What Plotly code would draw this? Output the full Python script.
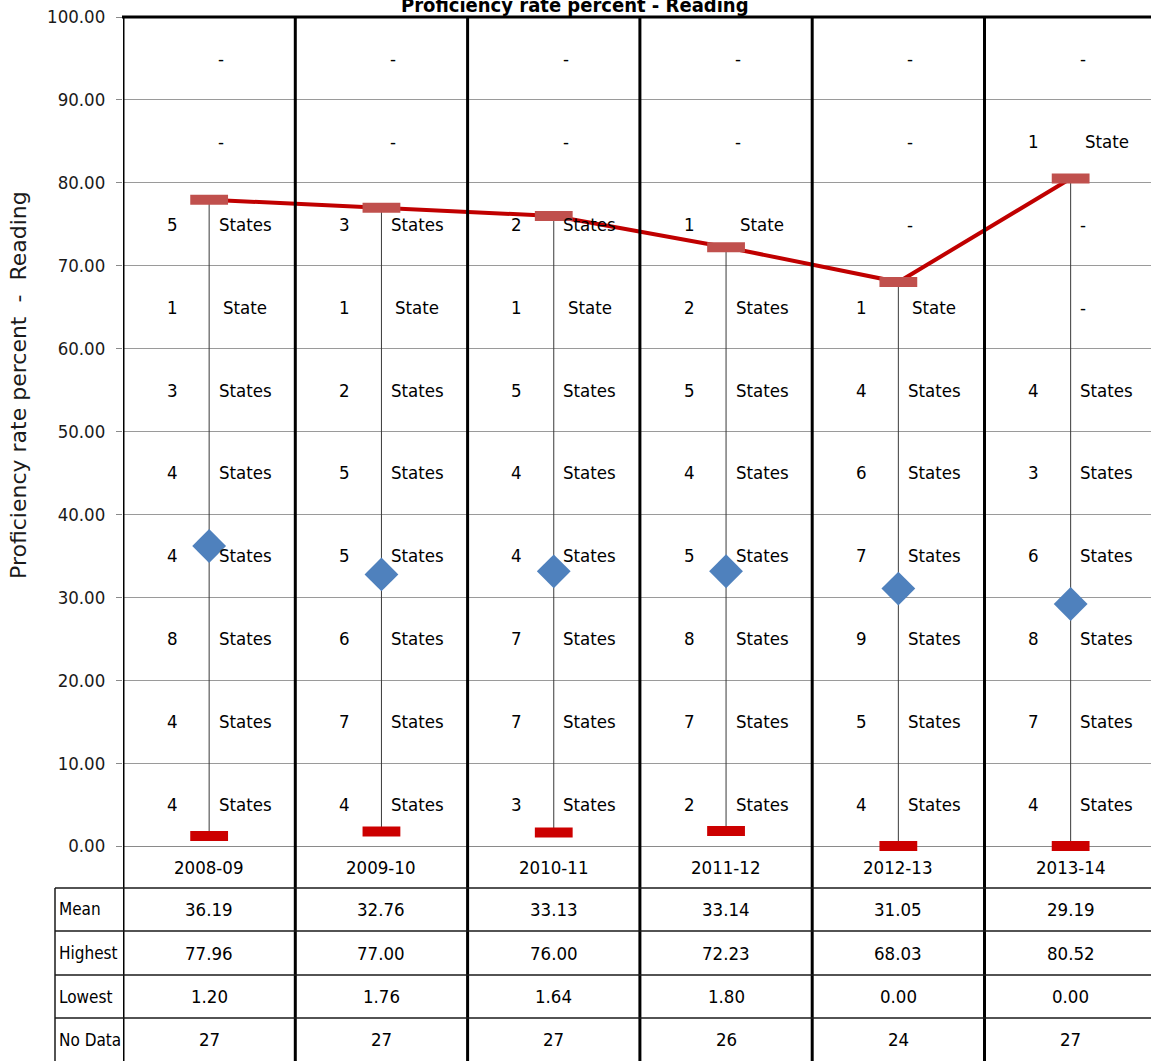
import plotly.graph_objects as go

# ---- data -------------------------------------------------------------
years = ["2008-09", "2009-10", "2010-11", "2011-12", "2012-13", "2013-14"]
mean_rate = [36.19, 32.76, 33.13, 33.14, 31.05, 29.19]
highest = [77.96, 77.00, 76.00, 72.23, 68.03, 80.52]
lowest = [1.20, 1.76, 1.64, 1.80, 0.00, 0.00]
no_data = [27, 27, 27, 26, 24, 27]

# number of states per 10-point band, top band (90-100) first; None = "-"
band_mid = [95, 85, 75, 65, 55, 45, 35, 25, 15, 5]
states_2008_09 = [None, None, 5, 1, 3, 4, 4, 8, 4, 4]
states_2009_10 = [None, None, 3, 1, 2, 5, 5, 6, 7, 4]
states_2010_11 = [None, None, 2, 1, 5, 4, 4, 7, 7, 3]
states_2011_12 = [None, None, 1, 2, 5, 4, 5, 8, 7, 2]
states_2012_13 = [None, None, None, 1, 4, 6, 7, 9, 5, 4]
states_2013_14 = [None, 1, None, None, 4, 3, 6, 8, 7, 4]
band_counts = [states_2008_09, states_2009_10, states_2010_11,
               states_2011_12, states_2012_13, states_2013_14]

y_ticks = [0, 10, 20, 30, 40, 50, 60, 70, 80, 90, 100]
table_rows = ["Mean", "Highest", "Lowest", "No Data"]

# ---- layout geometry (pixels) -----------------------------------------
W, H = 1151, 1061
L, T, B = 123, 17, 215
PW, PH = W - L, H - T - B
COL_W = 172.3
FONT = "DejaVu Sans Condensed"
FS = 18.5


def px_x(px):
    return (px - L) / PW


def px_y(py):
    return (H - B - py) / PH


fig = go.Figure()

# high-low connector
hl_x, hl_y = [], []
for yr, hi, lo in zip(years, highest, lowest):
    hl_x += [yr, yr, None]
    hl_y += [lo, hi, None]
fig.add_trace(go.Scatter(x=hl_x, y=hl_y, mode="lines",
                         line=dict(color="#3a3a3a", width=1),
                         hoverinfo="skip", showlegend=False))

# highest values, joined by a line
fig.add_trace(go.Scatter(x=years, y=highest, mode="lines+markers", name="Highest",
                         line=dict(color="#C00000", width=4),
                         marker=dict(symbol="line-ew", size=27,
                                     line=dict(color="#C0504D", width=10)),
                         cliponaxis=False, showlegend=False))

# lowest values
fig.add_trace(go.Scatter(x=years, y=lowest, mode="markers", name="Lowest",
                         marker=dict(symbol="line-ew", size=27,
                                     line=dict(color="#CC0000", width=10)),
                         cliponaxis=False, showlegend=False))

# mean values
fig.add_trace(go.Scatter(x=years, y=mean_rate, mode="markers", name="Mean",
                         marker=dict(symbol="diamond", size=26, color="#4F81BD",
                                     line=dict(width=0)),
                         cliponaxis=False, showlegend=False))

ann = []
txt = dict(family=FONT, size=FS, color="black")

# band counts inside each column
for yr, counts in zip(years, band_counts):
    for mid, c in zip(band_mid, counts):
        if c is None:
            ann.append(dict(x=yr, y=mid, xref="x", yref="y", text="-", showarrow=False,
                            xshift=12, font=txt))
        else:
            ann.append(dict(x=yr, y=mid, xref="x", yref="y", text=str(c), showarrow=False,
                            xshift=-37, font=txt))
            ann.append(dict(x=yr, y=mid, xref="x", yref="y",
                            text="State" if c == 1 else "States", showarrow=False,
                            xshift=36, font=txt))

# data table under the plot
row_centres = [909.5, 953, 996.5, 1039.5]
table_vals = [[f"{v:.2f}" for v in mean_rate],
              [f"{v:.2f}" for v in highest],
              [f"{v:.2f}" for v in lowest],
              [str(v) for v in no_data]]
for yr in years:
    ann.append(dict(x=yr, y=px_y(867), xref="x", yref="paper", text=yr,
                    showarrow=False, font=txt, yanchor="middle"))
for name, cy, vals in zip(table_rows, row_centres, table_vals):
    ann.append(dict(x=px_x(57), y=px_y(cy), xref="paper", yref="paper", text=name,
                    showarrow=False, xanchor="left", yanchor="middle",
                    font=dict(family=FONT, size=17, color="black")))
    for yr, v in zip(years, vals):
        ann.append(dict(x=yr, y=px_y(cy), xref="x", yref="paper", text=v,
                        showarrow=False, yanchor="middle", font=txt))

# titles
ann.append(dict(x=px_x(575), y=px_y(5), xref="paper", yref="paper",
                text="<b>Proficiency rate percent - Reading</b>", showarrow=False,
                xanchor="center", yanchor="middle",
                font=dict(family=FONT, size=20, color="black")))
ann.append(dict(x=px_x(18), y=px_y(385), xref="paper", yref="paper",
                text="Proficiency rate percent  -  Reading", textangle=-90,
                showarrow=False, xanchor="center", yanchor="middle",
                font=dict(family="DejaVu Sans", size=22, color="#1a1a1a")))

shapes = []
# thick column separators running through the table
for i in range(len(years)):
    shapes.append(dict(type="line", xref="x", yref="paper", x0=i - 0.5, x1=i - 0.5,
                       y0=1, y1=px_y(H + 2), line=dict(color="black", width=3)))
# top border
shapes.append(dict(type="line", xref="paper", yref="paper", x0=px_x(L - 1), x1=1.01,
                   y0=1, y1=1, line=dict(color="black", width=3)))
# table row rules
for py in [888, 931, 975, 1018]:
    shapes.append(dict(type="line", xref="paper", yref="paper", x0=px_x(55), x1=1.01,
                       y0=px_y(py), y1=px_y(py), line=dict(color="#1a1a1a", width=1.5)))
# left edge of the row-label column
shapes.append(dict(type="line", xref="paper", yref="paper", x0=px_x(55), x1=px_x(55),
                   y0=px_y(888), y1=px_y(H + 2), line=dict(color="#1a1a1a", width=1.5)))

fig.update_layout(
    width=W, height=H,
    margin=dict(l=L, r=0, t=T, b=B),
    plot_bgcolor="white", paper_bgcolor="white",
    showlegend=False,
    annotations=ann, shapes=shapes,
    xaxis=dict(type="category", categoryorder="array", categoryarray=years,
               range=[-0.5, -0.5 + PW / COL_W], showgrid=False, zeroline=False,
               showticklabels=False, ticks="", showline=False, fixedrange=True),
    yaxis=dict(range=[0, 100], tickvals=y_ticks,
               ticktext=[f"{v:.2f}" for v in y_ticks],
               showgrid=True, gridcolor="#9a9a9a", gridwidth=1,
               zeroline=True, zerolinecolor="#8a8a8a", zerolinewidth=1,
               ticks="outside", ticklen=6, tickcolor="#8a8a8a",
               ticklabelstandoff=7,
               tickfont=dict(family=FONT, size=FS, color="#1a1a1a"),
               showline=False, fixedrange=True),
)

fig.write_html("out.html")
